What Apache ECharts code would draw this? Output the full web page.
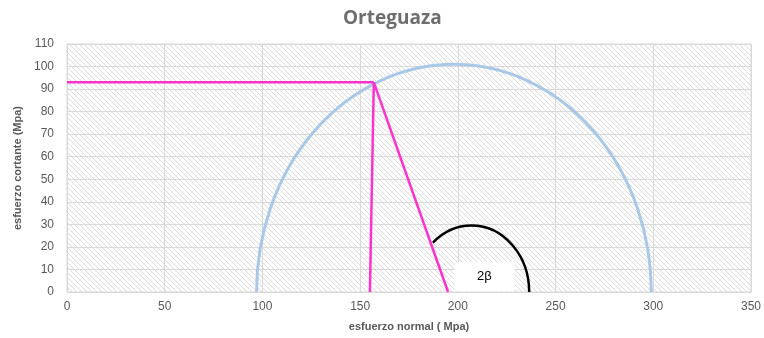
<!DOCTYPE html>
<html>
<head>
<meta charset="utf-8">
<style>
  html, body { margin: 0; padding: 0; background: #ffffff; }
  #chart { width: 764px; height: 338px; }
</style>
<script src="https://cdn.jsdelivr.net/npm/echarts@6/dist/echarts.min.js"></script>
</head>
<body>
<div id="chart"></div>
<script>
// Mohr circle: principal stresses (Mpa)
const mohrCircle = { sigma3: 97, sigma1: 299 };
// Stress state on the plane: [normal, shear]
const statePoint = [157, 93];
// Pole lines drawn from the stress point
const shearLine = [[0, 93], [157, 93]];
const poleLine = [[157, 93], [155, 0]];
const radiusLine = [[157, 93], [195, 0]];
// Angle arc marking 2β: [centre, radius, start angle (deg), end angle (deg)]
const angleArc = [207, 29.5, 0, 132];
const angleLabel = '2β';
const angleLabelPos = [211, 7];

// Axis ticks
const xTicks = { min: 0, max: 350, interval: 50 };
const yTicks = { min: 0, max: 110, interval: 10 };

// Diagonal hatching for the plot background
function hatchPattern() {
  const s = 5;
  const c = document.createElement('canvas');
  c.width = s; c.height = s;
  const ctx = c.getContext('2d');
  ctx.fillStyle = '#ffffff';
  ctx.fillRect(0, 0, s, s);
  ctx.strokeStyle = '#dcdcdc';
  ctx.lineWidth = 1;
  ctx.beginPath();
  ctx.moveTo(-1, -1); ctx.lineTo(s + 1, s + 1);
  ctx.moveTo(-1, s - 1); ctx.lineTo(1, s + 1);
  ctx.moveTo(s - 1, -1); ctx.lineTo(s + 1, 1);
  ctx.stroke();
  return c;
}

// Upper half of an arc around (cx, 0) in data units, drawn as an SVG elliptical arc in pixels
function arcPath(api, cx, r, a0, a1) {
  const c = api.coord([cx, 0]);
  const sz = api.size([r, r]);
  const rx = sz[0], ry = sz[1];
  const p = a => [c[0] + rx * Math.cos(a * Math.PI / 180), c[1] - ry * Math.sin(a * Math.PI / 180)];
  const s = p(a0), e = p(a1);
  const large = (a1 - a0) > 180 ? 1 : 0;
  return 'M' + s[0] + ' ' + s[1] + ' A' + rx + ' ' + ry + ' 0 ' + large + ' 0 ' + e[0] + ' ' + e[1];
}

const chart = echarts.init(document.getElementById('chart'), null, { renderer: 'canvas' });
const grey = '#595959';
const lineFont = '"Liberation Sans", "DejaVu Sans", sans-serif';

const mohrCentre = (mohrCircle.sigma1 + mohrCircle.sigma3) / 2;
const mohrRadius = (mohrCircle.sigma1 - mohrCircle.sigma3) / 2;

chart.setOption({
  animation: false,
  backgroundColor: '#ffffff',
  title: {
    text: 'Orteguaza',
    left: 338,
    top: 4,
    textStyle: { color: '#6e6e6e', fontSize: 19, fontWeight: 'bold', fontFamily: '"Open Sans", sans-serif' }
  },
  grid: {
    left: 67, right: 11, top: 44, bottom: 46,
    show: true,
    backgroundColor: { image: hatchPattern(), repeat: 'repeat' },
    borderColor: '#d9d9d9',
    borderWidth: 1
  },
  xAxis: {
    type: 'value',
    min: xTicks.min, max: xTicks.max, interval: xTicks.interval,
    name: 'esfuerzo normal ( Mpa)',
    nameLocation: 'middle',
    nameGap: 29,
    nameTextStyle: { color: grey, fontSize: 11, fontWeight: 'bold', fontFamily: lineFont },
    axisLine: { show: true, lineStyle: { color: '#d9d9d9' } },
    axisTick: { show: false },
    axisLabel: { color: grey, fontSize: 12, margin: 9, fontFamily: lineFont },
    splitLine: { show: true, lineStyle: { color: '#d9d9d9', width: 1 } }
  },
  yAxis: {
    type: 'value',
    min: yTicks.min, max: yTicks.max, interval: yTicks.interval,
    name: 'esfuerzo cortante (Mpa)',
    nameLocation: 'middle',
    nameGap: 44,
    nameTextStyle: { color: grey, fontSize: 11, fontWeight: 'bold', fontFamily: lineFont },
    axisLine: { show: true, lineStyle: { color: '#d9d9d9' } },
    axisTick: { show: false },
    axisLabel: { color: grey, fontSize: 12, margin: 13, fontFamily: lineFont },
    splitLine: { show: true, lineStyle: { color: '#d9d9d9', width: 1 } }
  },
  series: [
    {
      name: 'Mohr',
      type: 'custom',
      coordinateSystem: 'cartesian2d',
      data: [[mohrCentre, mohrRadius]],
      clip: true,
      renderItem: (params, api) => ({
        type: 'path',
        shape: { pathData: arcPath(api, api.value(0), api.value(1), 0, 180) },
        style: { fill: 'none', stroke: '#a9c8e8', lineWidth: 3 }
      }),
      z: 2
    },
    {
      type: 'line', data: shearLine, symbol: 'none',
      lineStyle: { color: '#ff33cc', width: 2.5 }, z: 3
    },
    {
      type: 'line', data: poleLine, symbol: 'none',
      lineStyle: { color: '#ff33cc', width: 2.5 }, z: 3
    },
    {
      type: 'line', data: radiusLine, symbol: 'none',
      lineStyle: { color: '#ff33cc', width: 2.5 }, z: 3
    },
    {
      name: 'angle',
      type: 'custom',
      coordinateSystem: 'cartesian2d',
      data: [angleArc],
      renderItem: (params, api) => ({
        type: 'path',
        shape: { pathData: arcPath(api, api.value(0), api.value(1), api.value(2), api.value(3)) },
        style: { fill: 'none', stroke: '#000000', lineWidth: 2.5 }
      }),
      z: 4
    },
    {
      name: 'label',
      type: 'custom',
      coordinateSystem: 'cartesian2d',
      data: [angleLabelPos],
      renderItem: (params, api) => {
        const p = api.coord([api.value(0), api.value(1)]);
        return {
          type: 'group',
          children: [
            { type: 'rect', shape: { x: p[0] - 25, y: p[1] - 14, width: 60, height: 29 },
              style: { fill: '#ffffff' } },
            { type: 'text', x: p[0] + 5, y: p[1], style: {
              text: angleLabel, fill: '#000000', fontSize: 13, fontFamily: lineFont,
              align: 'center', verticalAlign: 'middle' } }
          ]
        };
      },
      z: 5
    }
  ]
});
</script>
</body>
</html>
